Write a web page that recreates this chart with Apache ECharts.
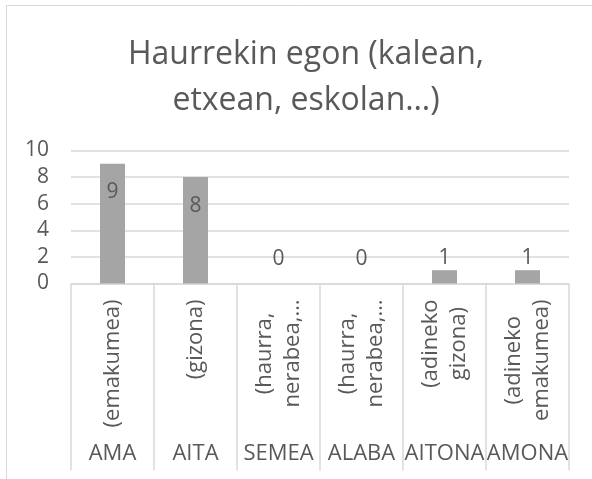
<!DOCTYPE html>
<html>
<head>
<meta charset="utf-8">
<script src="https://cdn.jsdelivr.net/npm/echarts@6/dist/echarts.min.js"></script>
<style>
  html, body { margin: 0; padding: 0; background: #fff; }
  #chart { width: 592px; height: 479px; }
</style>
</head>
<body>
<div id="chart"></div>
<script>
var titleText = 'Haurrekin egon (kalean,\netxean, eskolan…)';
var groups = ['AMA', 'AITA', 'SEMEA', 'ALABA', 'AITONA', 'AMONA'];
var subLabels = ['(emakumea)', '(gizona)', '(haurra,\nnerabea,…', '(haurra,\nnerabea,…', '(adineko\ngizona)', '(adineko\nemakumea)'];
var counts = [9, 8, 0, 0, 1, 1];
var yTicks = [0, 2, 4, 6, 8, 10];

var fontName = '"Open Sans", sans-serif';
var textColor = '#595959';
var lineColor = '#d9d9d9';

var chart = echarts.init(document.getElementById('chart'));

// excel puts the label inside for tall bars, above for the short ones
var barData = counts.map(function (v) {
  var lbl;
  if (v >= 2) {
    lbl = { position: 'insideTop', distance: 18 };
  } else {
    lbl = { position: 'top', distance: v === 0 ? 14 : 2 };
  }
  return { value: v, label: lbl };
});

var option = {
  animation: false,
  textStyle: { fontFamily: fontName },
  graphic: [{
    type: 'rect',
    shape: { x: 6.5, y: 5.5, width: 700, height: 600 },
    style: { fill: 'none', stroke: lineColor, lineWidth: 1 },
    z: -1
  }],
  title: {
    text: titleText,
    left: 301,
    textAlign: 'center',
    top: 27,
    textStyle: {
      fontFamily: fontName,
      fontSize: 32,
      fontWeight: 'normal',
      color: textColor,
      lineHeight: 46
    }
  },
  grid: {
    left: 71,
    right: 23,
    top: 150.5,
    bottom: 195.5,
    containLabel: false
  },
  yAxis: {
    type: 'value',
    min: yTicks[0],
    max: yTicks[yTicks.length - 1],
    interval: 2,
    axisLine: { show: false },
    axisTick: { show: false },
    axisLabel: {
      color: textColor,
      fontSize: 21,
      margin: 22
    },
    splitLine: { lineStyle: { color: lineColor, width: 1.5 } }
  },
  xAxis: [{
    type: 'category',
    data: subLabels,
    axisLine: { lineStyle: { color: lineColor, width: 1.5 } },
    axisTick: {
      show: true,
      interval: 0,
      length: 187,
      lineStyle: { color: lineColor, width: 1.5 }
    },
    axisLabel: {
      interval: 0,
      rotate: 90,
      margin: 16,
      color: textColor,
      fontSize: 22,
      formatter: function (val) {
        return val.split('\n').map(function (s) { return '{c|' + s + '}'; }).join('\n');
      },
      rich: {
        c: { align: 'center', fontSize: 22, lineHeight: 28, color: textColor }
      }
    }
  }, {
    type: 'category',
    position: 'bottom',
    data: groups,
    axisLine: { show: false },
    axisTick: { show: false },
    axisLabel: {
      interval: 0,
      margin: 159,
      color: textColor,
      fontSize: 22
    }
  }],
  series: [{
    type: 'bar',
    xAxisIndex: 0,
    data: barData,
    barWidth: 25,
    itemStyle: { color: '#a5a5a5' },
    label: {
      show: true,
      color: textColor,
      fontSize: 21
    }
  }]
};

chart.setOption(option);
</script>
</body>
</html>
